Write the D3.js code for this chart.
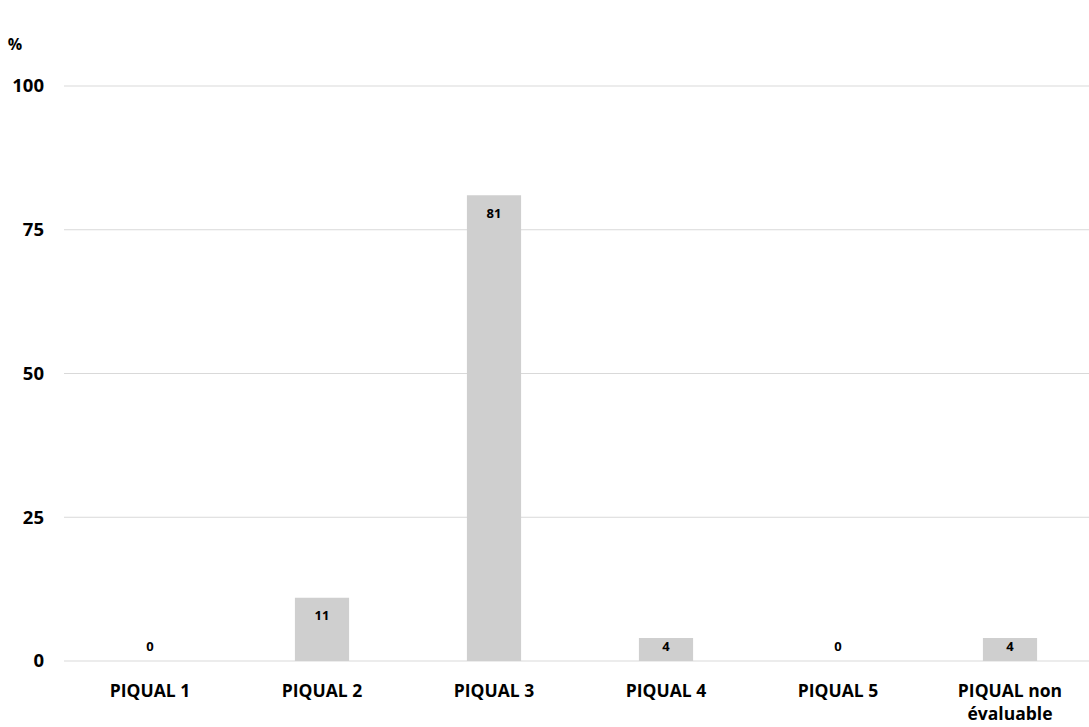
<!DOCTYPE html>
<html>
<head>
<meta charset="utf-8">
<script src="https://cdn.jsdelivr.net/npm/d3@7"></script>
<style>
  body { margin: 0; background: #fff; }
  text { font-family: "Open Sans", "Liberation Sans", sans-serif; font-weight: 700; fill: #000; }
</style>
</head>
<body>
<div id="chart"></div>
<script>
var categories = ["PIQUAL 1", "PIQUAL 2", "PIQUAL 3", "PIQUAL 4", "PIQUAL 5", "PIQUAL non|évaluable"];
var values = [0, 11, 81, 4, 0, 4];
var yTicks = [0, 25, 50, 75, 100];

var width = 1089, height = 727;

var svg = d3.select("#chart").append("svg")
    .attr("width", width)
    .attr("height", height);

var x = d3.scaleBand()
    .domain(categories)
    .range([64, 1096])
    .paddingInner(0.685)
    .paddingOuter(0.3425);

var y = d3.scaleLinear()
    .domain([0, 100])
    .range([661, 86]);

// grid
svg.append("g").selectAll("line")
    .data(yTicks)
    .join("line")
    .attr("x1", 64)
    .attr("x2", width)
    .attr("y1", d => y(d))
    .attr("y2", d => y(d))
    .attr("stroke", "#d9d9d9")
    .attr("stroke-width", 1.2);

// y labels
svg.append("g").selectAll("text")
    .data(yTicks)
    .join("text")
    .attr("x", 44)
    .attr("y", d => y(d))
    .attr("dy", "0.35em")
    .attr("text-anchor", "end")
    .attr("font-size", 18.5)
    .text(d => d);

svg.append("text")
    .attr("x", 15)
    .attr("y", 44)
    .attr("dy", "0.35em")
    .attr("text-anchor", "middle")
    .attr("font-size", 16)
    .text("%");

// bars
svg.append("g").selectAll("rect")
    .data(values)
    .join("rect")
    .attr("x", (d, i) => x(categories[i]))
    .attr("width", x.bandwidth())
    .attr("y", d => y(d))
    .attr("height", d => y(0) - y(d))
    .attr("fill", "#cfcfcf");

// value labels
svg.append("g").selectAll("text")
    .data(values)
    .join("text")
    .attr("x", (d, i) => x(categories[i]) + x.bandwidth() / 2)
    .attr("y", d => Math.min(y(d) + 18, y(0) - 15))
    .attr("dy", "0.35em")
    .attr("text-anchor", "middle")
    .attr("font-size", 13)
    .text(d => d);

// x labels
var xl = svg.append("g").selectAll("text")
    .data(categories)
    .join("text")
    .attr("x", d => x(d) + x.bandwidth() / 2)
    .attr("y", 691)
    .attr("text-anchor", "middle")
    .attr("font-size", 17.5);

xl.each(function(d) {
  var t = d3.select(this);
  d.split("|").forEach(function(part, k) {
    t.append("tspan")
      .attr("x", x(d) + x.bandwidth() / 2)
      .attr("dy", k === 0 ? "0.35em" : "1.3em")
      .text(part);
  });
});
</script>
</body>
</html>
